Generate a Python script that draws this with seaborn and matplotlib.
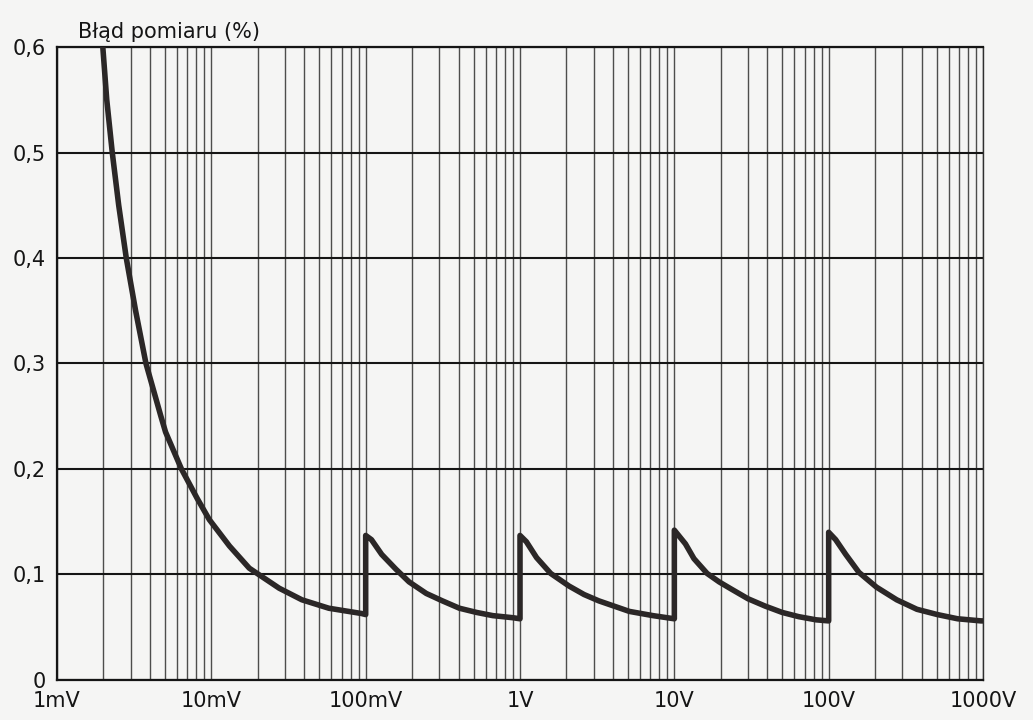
import pandas as pd
import seaborn as sns
import matplotlib.pyplot as plt
from matplotlib.ticker import LogLocator, NullFormatter

# zakres 1 mV ... 100 mV
u_range1 = [1.98e-3, 2.10e-3, 2.28e-3, 2.51e-3, 2.81e-3, 3.23e-3, 3.77e-3,
            4.71e-3, 5.05e-3, 6.40e-3, 8.1e-3, 9.7e-3, 13.1e-3, 17.6e-3,
            27.5e-3, 38.6e-3, 57.7e-3, 94e-3, 100e-3]
err_range1 = [0.6, 0.55, 0.5, 0.45, 0.4, 0.35, 0.3, 0.25, 0.235, 0.2,
              0.172, 0.152, 0.127, 0.106, 0.087, 0.076, 0.068, 0.063, 0.062]

# zakres 100 mV ... 1 V
u_range2 = [0.1, 0.109, 0.127, 0.157, 0.191, 0.247, 0.314, 0.405, 0.524,
            0.666, 0.90, 1.0]
err_range2 = [0.137, 0.133, 0.119, 0.105, 0.093, 0.082, 0.075, 0.068,
              0.064, 0.061, 0.059, 0.058]

# zakres 1 V ... 10 V
u_range3 = [1.0, 1.1, 1.28, 1.58, 2.08, 2.6, 3.24, 5.11, 7.26, 10.0]
err_range3 = [0.137, 0.131, 0.116, 0.101, 0.089, 0.081, 0.075, 0.065,
              0.061, 0.058]

# zakres 10 V ... 100 V
u_range4 = [10.0, 11.8, 13.4, 16.3, 19.5, 23.5, 30.0, 38.8, 50.0, 64.0,
            83.0, 100.0]
err_range4 = [0.142, 0.129, 0.115, 0.101, 0.093, 0.086, 0.077, 0.070,
              0.064, 0.060, 0.057, 0.056]

# zakres 100 V ... 1000 V
u_range5 = [100.0, 111.0, 129.0, 157.0, 204.0, 276.0, 373.0, 506.0, 685.0,
            970.0, 1000.0]
err_range5 = [0.140, 0.133, 0.119, 0.102, 0.088, 0.076, 0.067, 0.062,
              0.058, 0.056, 0.056]

x_ticks = [1e-3, 1e-2, 1e-1, 1, 10, 100, 1000]
x_labels = ["1mV", "10mV", "100mV", "1V", "10V", "100V", "1000V"]
y_ticks = [0, 0.1, 0.2, 0.3, 0.4, 0.5, 0.6]
y_labels = ["0", "0,1", "0,2", "0,3", "0,4", "0,5", "0,6"]

PAPER = "#f5f5f4"
INK = "#2b2727"


def build_frame():
    """Skleja wszystkie zakresy w jedna ciagla linie (ze skokami)."""
    parts = []
    ranges = [(u_range1, err_range1), (u_range2, err_range2),
              (u_range3, err_range3), (u_range4, err_range4),
              (u_range5, err_range5)]
    for u, e in ranges:
        parts.append(pd.DataFrame({"U": u, "err": e}))
    return pd.concat(parts, ignore_index=True)


def main():
    sns.set_theme(style="white")
    plt.rcParams["font.family"] = ["DejaVu Sans"]

    df = build_frame()

    fig = plt.figure(figsize=(10.33, 7.2), dpi=100)
    fig.patch.set_facecolor(PAPER)
    ax = fig.add_axes([0.0552, 0.0556, 0.8964, 0.8791])
    ax.set_facecolor(PAPER)

    ax.set_xscale("log")
    ax.set_xlim(1e-3, 1e3)
    ax.set_ylim(0, 0.6)

    # siatka logarytmiczna
    ax.xaxis.set_minor_locator(LogLocator(base=10, subs=range(2, 10)))
    ax.xaxis.set_minor_formatter(NullFormatter())
    ax.grid(which="both", axis="x", color="#2f2f2f", lw=1.0, alpha=0.85)
    ax.grid(which="major", axis="y", color="#151515", lw=1.5)

    sns.lineplot(data=df, x="U", y="err", sort=False, estimator=None,
                 color=INK, lw=4.0, ax=ax, zorder=5)
    ax.lines[-1].set_solid_joinstyle("round")
    ax.lines[-1].set_solid_capstyle("round")

    ax.set_xticks(x_ticks)
    ax.set_xticklabels(x_labels)
    ax.set_yticks(y_ticks)
    ax.set_yticklabels(y_labels)
    ax.set_xlabel("")
    ax.set_ylabel("")

    ax.tick_params(axis="x", which="major", direction="out", length=5,
                   width=1.2, color="#151515", pad=3, labelsize=15,
                   labelcolor="#151515")
    ax.tick_params(axis="x", which="minor", length=0)
    ax.tick_params(axis="y", direction="out", length=7, width=1.3,
                   color="#151515", pad=1, labelsize=15,
                   labelcolor="#151515")

    for side in ["left", "bottom", "top"]:
        ax.spines[side].set_color("#151515")
        ax.spines[side].set_linewidth(1.6)
    ax.spines["right"].set_color("#2f2f2f")
    ax.spines["right"].set_linewidth(1.0)

    fig.text(0.0755, 1 - 38 / 720, "Błąd pomiaru (%)", fontsize=15,
             color="#151515", va="baseline", ha="left")

    plt.savefig("out.png", dpi=100, facecolor=PAPER)


if __name__ == "__main__":
    main()
